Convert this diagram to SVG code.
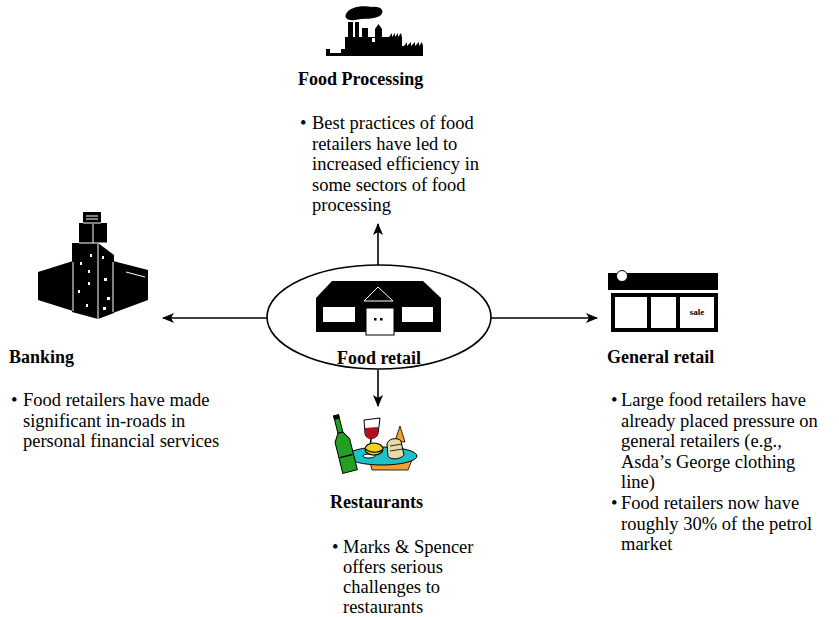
<svg xmlns="http://www.w3.org/2000/svg" width="839" height="617" viewBox="0 0 839 617">
  <defs>
    <style>
      .title { font-family: "Liberation Serif", "Times New Roman", serif; font-weight: bold; font-size: 18px; fill: #000; }
      .body { font-family: "Liberation Serif", "Times New Roman", serif; font-size: 18.5px; fill: #000; }
      .conn { stroke: #000; stroke-width: 1.6; fill: none; marker-end: url(#arrow); }
      .ink { fill: #000; }
      .gap { stroke: #fff; stroke-width: 1; fill: none; }
    </style>
    <marker id="arrow" viewBox="0 0 12 10" refX="11" refY="5" markerWidth="12" markerHeight="10" markerUnits="userSpaceOnUse" orient="auto">
      <path d="M0,0 L12,5 L0,10 L3,5 Z" fill="#000"/>
    </marker>
  </defs>
  <rect width="839" height="617" fill="#fff"/>

  <!-- connectors from the central node -->
  <g id="connectors">
    <line class="conn" x1="378" y1="266" x2="378" y2="224"/>
    <line class="conn" x1="267" y1="318" x2="163" y2="318"/>
    <line class="conn" x1="490" y1="318" x2="597" y2="318"/>
    <line class="conn" x1="378" y1="370" x2="378" y2="406"/>
  </g>

  <!-- central node: food retail -->
  <g id="food-retail">
    <ellipse cx="379" cy="317" rx="112" ry="52" fill="#fff" stroke="#000" stroke-width="1.6"/>
    <polygon class="ink" points="332,281 423,281 441,298 316,298"/>
    <rect class="ink" x="316" y="298" width="125" height="34"/>
    <rect x="323" y="307" width="32" height="15" fill="#fff"/>
    <rect x="402" y="307" width="31" height="15" fill="#fff"/>
    <polygon points="364,301 378,287 393,301" fill="none" stroke="#fff" stroke-width="1"/>
    <rect x="366" y="308" width="28" height="27" fill="#fff" stroke="#000" stroke-width="1"/>
    <rect class="ink" x="374" y="318" width="2.5" height="2.5"/>
    <rect class="ink" x="380" y="318" width="2.5" height="2.5"/>
    <text class="title" x="379" y="364" text-anchor="middle">Food retail</text>
  </g>

  <!-- top node: food processing -->
  <g id="food-processing">
    <path class="ink" d="M346,14 C349,7 362,5 372,7 C381,6 385,11 381,15 C376,20 362,18 355,20 C348,21 344,18 346,14 Z"/>
    <rect class="ink" x="348" y="22" width="5" height="16"/>
    <rect class="ink" x="355" y="22" width="4" height="16"/>
    <rect class="ink" x="362" y="28" width="6" height="10"/>
    <rect class="ink" x="375" y="29" width="7" height="9"/>
    <polygon class="ink" points="375,29 378.5,24 382,29"/>
    <rect class="ink" x="345" y="37" width="57" height="19"/>
    <polygon class="ink" points="389,37 392,33 392,37 395,33 395,37 398,33 398,37 401,33 402,37"/>
    <rect class="ink" x="402" y="46" width="21" height="10"/>
    <polygon class="ink" points="404,46 407,42 407,46 411,42 411,46 415,42 415,46 419,42 419,46 422,42 423,46"/>
    <rect x="372" y="38" width="3" height="4" fill="#fff"/>
    <path class="ink" d="M326,49 L330,49 L330,53 L341,53 L341,49 L345,49 L345,56 L326,56 Z"/>
    <text class="title" x="298" y="85">Food Processing</text>
    <text class="body" x="300" y="129">•</text>
    <text class="body">
      <tspan x="312" y="129">Best practices of food</tspan>
      <tspan x="312" y="149.5">retailers have led to</tspan>
      <tspan x="312" y="170">increased efficiency in</tspan>
      <tspan x="312" y="190.5">some sectors of food</tspan>
      <tspan x="312" y="211">processing</tspan>
    </text>
  </g>

  <!-- left node: banking -->
  <g id="banking">
    <polygon class="ink" points="38,272 73,261 73,311 38,300"/>
    <polygon class="ink" points="113,261 148,270 148,300 113,313"/>
    <polygon class="ink" points="72,243 98,243 114,255 114,313 98,319 72,312"/>
    <polygon class="ink" points="79,223 107,223 107,243 79,243"/>
    <polygon class="ink" points="83,212 101,212 101,223 83,223"/>
    <line class="gap" x1="98" y1="244" x2="98" y2="319"/>
    <line class="gap" x1="93" y1="224" x2="93" y2="243"/>
    <line class="gap" x1="73" y1="262" x2="73" y2="311"/>
    <line class="gap" x1="113" y1="262" x2="113" y2="312"/>
    <line class="gap" x1="79" y1="243" x2="107" y2="243"/>
    <line class="gap" x1="83" y1="223" x2="101" y2="223"/>
    <line class="gap" x1="86" y1="216" x2="98" y2="216"/>
    <line class="gap" x1="86" y1="219" x2="98" y2="219"/>
    <line class="gap" x1="126" y1="272" x2="145" y2="277"/>
    <rect x="80" y="262" width="2" height="3" fill="#fff"/>
    <rect x="90" y="254" width="2" height="3" fill="#fff"/>
    <rect x="88" y="270" width="2" height="3" fill="#fff"/>
    <rect x="88" y="282" width="2" height="3" fill="#fff"/>
    <rect x="78" y="290" width="2" height="3" fill="#fff"/>
    <rect x="86" y="304" width="2" height="3" fill="#fff"/>
    <rect x="102" y="256" width="2" height="3" fill="#fff"/>
    <rect x="104" y="278" width="3" height="3" fill="#fff"/>
    <rect x="107" y="297" width="3" height="3" fill="#fff"/>
    <rect x="103" y="307" width="3" height="3" fill="#fff"/>
    <text class="title" x="9" y="363">Banking</text>
    <text class="body" x="11" y="406">•</text>
    <text class="body">
      <tspan x="23" y="406">Food retailers have made</tspan>
      <tspan x="23" y="426.5">significant in-roads in</tspan>
      <tspan x="23" y="447">personal financial services</tspan>
    </text>
  </g>

  <!-- right node: general retail -->
  <g id="general-retail">
    <rect class="ink" x="608" y="273" width="110" height="17"/>
    <circle cx="622" cy="276" r="5.5" fill="#fff" stroke="#000" stroke-width="1"/>
    <rect class="ink" x="611" y="293" width="107" height="39"/>
    <rect x="615" y="297" width="32" height="31" fill="#fff"/>
    <rect x="651" y="297" width="25" height="31" fill="#fff"/>
    <rect x="680" y="297" width="34" height="31" fill="#fff"/>
    <text x="697" y="315" text-anchor="middle" font-family="Liberation Serif, serif" font-weight="bold" font-size="9" fill="#000">sale</text>
    <text class="title" x="607" y="363">General retail</text>
    <text class="body" x="611" y="406">•</text>
    <text class="body">
      <tspan x="621" y="406">Large food retailers have</tspan>
      <tspan x="621" y="426.5">already placed pressure on</tspan>
      <tspan x="621" y="447">general retailers (e.g.,</tspan>
      <tspan x="621" y="467.5">Asda’s George clothing</tspan>
      <tspan x="621" y="488">line)</tspan>
    </text>
    <text class="body" x="611" y="509">•</text>
    <text class="body">
      <tspan x="621" y="509">Food retailers now have</tspan>
      <tspan x="621" y="529.5">roughly 30% of the petrol</tspan>
      <tspan x="621" y="550">market</tspan>
    </text>
  </g>

  <!-- bottom node: restaurants -->
  <g id="restaurants">
    <path d="M370,462 L412,460 L408,470 L372,470 Z" fill="#f0a030" stroke="#000" stroke-width="0.8"/>
    <ellipse cx="382" cy="456" rx="35" ry="9" fill="#20c0c8" stroke="#000" stroke-width="1"/>
    <g transform="rotate(-14 345 445)">
      <rect x="341" y="414" width="5" height="18" fill="#22a022" stroke="#000" stroke-width="1"/>
      <path d="M341,432 L346,432 L351,440 L351,472 L336,472 L336,440 Z" fill="#22a022" stroke="#000" stroke-width="1"/>
      <rect x="340.5" y="414" width="6" height="4" fill="#000"/>
      <path d="M337,456 L350,456" stroke="#000" stroke-width="1.5"/>
    </g>
    <path d="M364,420 L380,418 L378,434 C376,440 366,440 365,434 Z" fill="#fff" stroke="#000" stroke-width="1"/>
    <path d="M365,428 L378,427 L378,434 C376,440 366,440 365,434 Z" fill="#b01020"/>
    <line x1="371" y1="439" x2="369" y2="455" stroke="#000" stroke-width="1.5"/>
    <ellipse cx="369" cy="456" rx="6" ry="2" fill="#fff" stroke="#000" stroke-width="1"/>
    <ellipse cx="374" cy="449" rx="9" ry="6" fill="#f0d020" stroke="#000" stroke-width="1.2"/>
    <path d="M366,449 C368,452 378,454 382,450" stroke="#000" stroke-width="1.2" fill="none"/>
    <path d="M395,441 L400,426 L405,442 Z" fill="#f0a030" stroke="#000" stroke-width="0.8"/>
    <path d="M387,445 C387,438 398,437 401,441 L404,455 C400,460 390,460 388,456 Z" fill="#e8d8a8" stroke="#000" stroke-width="1"/>
    <path d="M390,446 L402,444 M390,451 L403,449" stroke="#000" stroke-width="0.8"/>
    <text class="title" x="330" y="508">Restaurants</text>
    <text class="body" x="332" y="553">•</text>
    <text class="body">
      <tspan x="343" y="553">Marks &amp; Spencer</tspan>
      <tspan x="343" y="573">offers serious</tspan>
      <tspan x="343" y="593">challenges to</tspan>
      <tspan x="343" y="613">restaurants</tspan>
    </text>
  </g>
</svg>
